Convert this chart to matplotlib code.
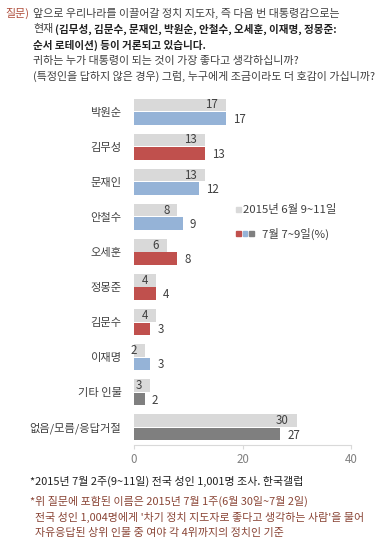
import numpy as np
import matplotlib
matplotlib.use('Agg')
import matplotlib.pyplot as plt
from matplotlib.patches import Rectangle

plt.rcParams['font.family'] = ['Noto Sans CJK KR', 'DejaVu Sans']

# Data
names = ['박원순', '김무성', '문재인', '안철수', '오세훈',
         '정몽준', '김문수', '이재명', '기타 인물', '없음/모름/응답거절']
june = [17, 13, 13, 8, 6, 4, 4, 2, 3, 30]
july = [17, 13, 12, 9, 8, 4, 3, 3, 2, 27]
party = ['blue', 'red', 'blue', 'blue', 'red',
         'red', 'red', 'blue', 'grey', 'grey']
legend_labels = ['2015년 6월 9~11일', '7월 7~9일(%)']

colours = {'blue': '#95b3d7', 'red': '#c0504d', 'grey': '#7f7f7f'}
light = '#d9d9d9'
txt = '#404040'
brown = '#8a4536'

W, H = 382, 548
fig = plt.figure(figsize=(W/100, H/100), dpi=100, facecolor='white')

def fx(px):
    return px/W

def fy(py):
    return 1-py/H

# Axes covers 0..40 horizontally, groups vertically
ax = fig.add_axes([fx(134), fy(445), (351-134)/W, 351/H])
idx = np.arange(len(names))
off = 0.19
hgt = 0.36
ax.barh(idx-off, june, height=hgt, color=light)
ax.barh(idx+off, july, height=hgt, color=[colours[p] for p in party])

for i in idx:
    ax.annotate(str(june[i]), (june[i], i-off), xytext=(-8, 0),
                textcoords='offset pixels', ha='right', va='center',
                fontsize=8.3, color=txt)
    ax.annotate(str(july[i]), (july[i], i+off), xytext=(7, -1),
                textcoords='offset pixels', ha='left', va='center',
                fontsize=8.3, color=txt)

ax.set_xlim(0, 40)
ax.set_ylim(len(names)-0.5, -0.5)
ax.set_xticks([0, 20, 40])
ax.set_yticks(idx)
ax.set_yticklabels(names, fontsize=8.1, color=txt)
ax.tick_params(axis='y', length=0, pad=9)
ax.tick_params(axis='x', length=3, color=light, labelcolor='#808080',
               labelsize=8.3, pad=3)
for s in ['top', 'right', 'left']:
    ax.spines[s].set_visible(False)
ax.spines['bottom'].set_color(light)
ax.set_facecolor('none')

# Legend drawn by hand
fig.patches.append(Rectangle((fx(236), fy(212)), 5/W, 5/H, color=light,
                             transform=fig.transFigure))
fig.text(fx(243), fy(210), legend_labels[0], fontsize=8.2, color=txt,
         va='center')
for k, p in enumerate(['red', 'blue', 'grey']):
    fig.patches.append(Rectangle((fx(236+k*6.5), fy(236)), 4.5/W, 5/H,
                                 color=colours[p], transform=fig.transFigure))
fig.text(fx(262), fy(234), legend_labels[1], fontsize=8.2, color=txt,
         va='center')

# Question header
hs = 7.95
fig.text(fx(5), fy(13), '질문)', fontsize=hs, color='#b0503e', va='center')
fig.text(fx(33), fy(13), '앞으로 우리나라를 이끌어갈 정치 지도자, 즉 다음 번 대통령감으로는',
         fontsize=hs, color=txt, va='center')
fig.text(fx(33), fy(29), '현재', fontsize=hs, color=txt, va='center')
fig.text(fx(55), fy(29), '(김무성, 김문수, 문재인, 박원순, 안철수, 오세훈, 이재명, 정몽준:',
         fontsize=7.6, color='#202020', va='center', fontweight='bold')
fig.text(fx(33), fy(45), '순서 로테이션) 등이 거론되고 있습니다.',
         fontsize=7.6, color='#202020', va='center', fontweight='bold')
fig.text(fx(33), fy(61), '귀하는 누가 대통령이 되는 것이 가장 좋다고 생각하십니까?',
         fontsize=hs, color=txt, va='center')
fig.text(fx(33), fy(76), '(특정인을 답하지 않은 경우) 그럼, 누구에게 조금이라도 더 호감이 가십니까?',
         fontsize=hs, color=txt, va='center')

# Footnotes
fs = 7.9
fig.text(fx(30), fy(481), '*2015년 7월 2주(9~11일) 전국 성인 1,001명 조사. 한국갤럽',
         fontsize=fs, color='#202020', va='center')
fig.text(fx(30), fy(501), '*위 질문에 포함된 이름은 2015년 7월 1주(6월 30일~7월 2일)',
         fontsize=fs, color=brown, va='center')
fig.text(fx(35), fy(517), "전국 성인 1,004명에게 '차기 정치 지도자로 좋다고 생각하는 사람'을 물어",
         fontsize=fs, color=brown, va='center')
fig.text(fx(35), fy(533), '자유응답된 상위 인물 중 여야 각 4위까지의 정치인 기준',
         fontsize=fs, color=brown, va='center')

fig.savefig('out.png', dpi=100, facecolor='white')
